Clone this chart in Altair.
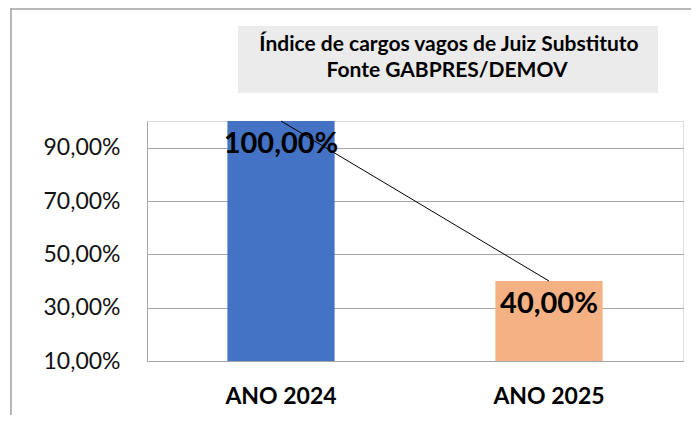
import altair as alt
import pandas as pd

categories = ["ANO 2024", "ANO 2025"]
values = [100.0, 40.0]
bar_colors = ["#4472C4", "#F4B183"]
tick_values = [10, 30, 50, 70, 90]
title_lines = ["Índice de cargos vagos de Juiz Substituto", "Fonte GABPRES/DEMOV"]

FONT = "Lato"

df = pd.DataFrame({
    "cat": categories,
    "val": values,
    "color": bar_colors,
    "label": [f"{v:.2f}".replace(".", ",") + "%" for v in values],
})

x_enc = alt.X("cat:N", sort=categories,
              scale=alt.Scale(paddingInner=0.6, paddingOuter=0.3),
              axis=alt.Axis(title=None, labelAngle=0, ticks=False, tickSize=0,
                            labelPadding=24, labelFont=FONT, labelFontSize=23,
                            labelFontWeight="bold", labelColor="#000000",
                            domainColor="#A6A6A6", domainWidth=1))
y_scale = alt.Scale(domain=[10, 100], nice=False, zero=False)

bars = alt.Chart(df).mark_bar().encode(
    x=x_enc,
    y=alt.Y("val:Q", scale=y_scale,
            axis=alt.Axis(title=None, values=tick_values, ticks=False, tickSize=0,
                          labelPadding=27, labelFont=FONT, labelFontSize=23,
                          labelColor="#111111", grid=True, gridColor="#A6A6A6",
                          gridWidth=1, domainColor="#A6A6A6", domainWidth=1,
                          labelExpr="replace(format(datum.value, '.2f'), '.', ',') + '%'")),
    y2=alt.datum(10),
    color=alt.Color("color:N", scale=None),
)

line = alt.Chart(df).mark_line(color="#000000", strokeWidth=1).encode(
    x=alt.X("cat:N", sort=categories),
    y=alt.Y("val:Q", scale=y_scale),
)

labels = alt.Chart(df).mark_text(font=FONT, fontSize=29, fontWeight="bold",
                                 color="#000000", baseline="middle", dy=23).encode(
    x=alt.X("cat:N", sort=categories),
    y=alt.Y("val:Q", scale=y_scale),
    text="label:N",
)

one = alt.Data(values=[{}])
border_top = alt.Chart(one).mark_rule(color="#A0A0A0", strokeWidth=1.5).encode(
    x=alt.value(-137), x2=alt.value(560), y=alt.value(-112))
border_left = alt.Chart(one).mark_rule(color="#A0A0A0", strokeWidth=1.5).encode(
    x=alt.value(-136), y=alt.value(-112), y2=alt.value(310))
title_box = alt.Chart(one).mark_rect(color="#EBEBEB").encode(
    x=alt.value(91), x2=alt.value(511), y=alt.value(-95), y2=alt.value(-28))
title1 = alt.Chart(one).mark_text(font=FONT, fontSize=21, fontWeight="bold",
                                  color="#000000", baseline="middle").encode(
    x=alt.value(302), y=alt.value(-76), text=alt.value(title_lines[0]))
title2 = alt.Chart(one).mark_text(font=FONT, fontSize=21, fontWeight="bold",
                                  color="#000000", baseline="middle").encode(
    x=alt.value(300), y=alt.value(-50), text=alt.value(title_lines[1]))

chart = alt.layer(
    border_top, border_left, title_box, title1, title2, bars, line, labels
).properties(
    width=536, height=240,
    padding={"left": 139, "top": 113, "right": 8, "bottom": 54},
    autosize=alt.AutoSizeParams(type="none"),
).configure_view(stroke=None).configure(background="#FFFFFF")

chart.save("out.html", embed_options={"renderer": "svg", "actions": False})
